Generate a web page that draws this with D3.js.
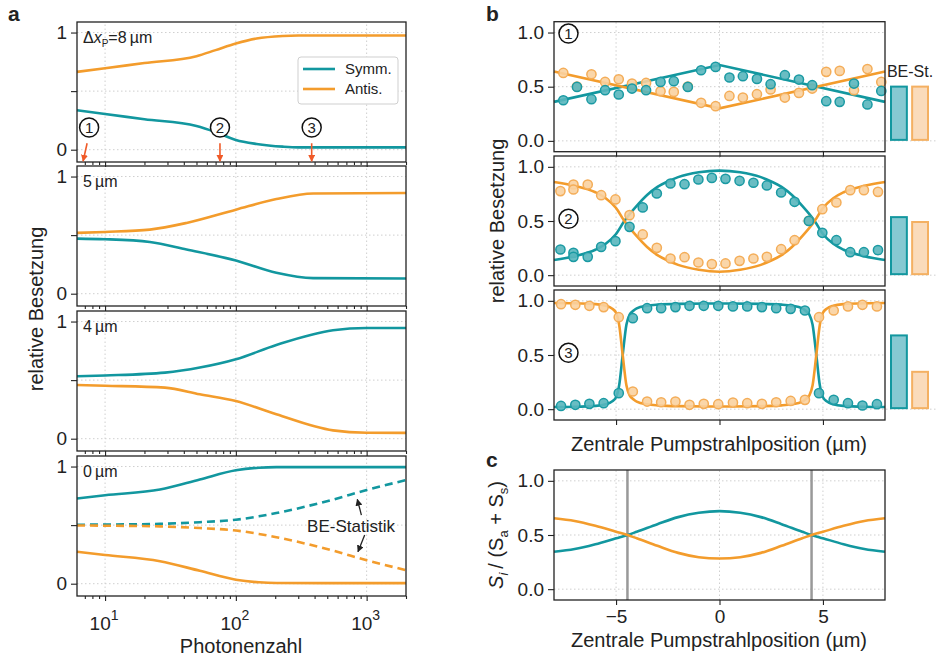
<!DOCTYPE html>
<html>
<head>
<meta charset="utf-8">
<script src="https://cdn.jsdelivr.net/npm/d3@7"></script>
<style>
body { margin: 0; background: #fff; }
text { font-family: "Liberation Sans", Arial, Helvetica, sans-serif; fill: #222; }
</style>
</head>
<body>
<div id="chart"></div>
<script>
// ---------- panel a: occupation vs photon number ----------
var a8N      = [6.1, 10, 20, 50, 70, 100, 144, 229, 300, 2000];
var a8Symm   = [0.336, 0.305, 0.26, 0.202, 0.15, 0.083, 0.049, 0.026, 0.02, 0.02];
var a8Antis  = [0.664, 0.695, 0.74, 0.798, 0.85, 0.906, 0.949, 0.971, 0.975, 0.975];

var a5N      = [6.1, 10, 22, 42, 100, 204, 390, 2000];
var a5Symm   = [0.47, 0.465, 0.442, 0.377, 0.283, 0.178, 0.133, 0.13];
var a5Antis  = [0.519, 0.527, 0.547, 0.604, 0.717, 0.808, 0.855, 0.86];

var a4N      = [6.1, 10, 28.7, 53, 100, 204, 553, 1000, 2000];
var a4Symm   = [0.533, 0.54, 0.564, 0.607, 0.678, 0.80, 0.926, 0.945, 0.945];
var a4Antis  = [0.458, 0.452, 0.436, 0.379, 0.322, 0.208, 0.071, 0.051, 0.05];

var a0N      = [6.1, 10, 26.3, 53, 100, 150, 204, 553, 1000, 2000];
var a0Symm   = [0.727, 0.755, 0.804, 0.89, 0.968, 0.99, 0.995, 0.995, 0.995, 0.995];
var a0Antis  = [0.272, 0.245, 0.192, 0.11, 0.034, 0.012, 0.006, 0.005, 0.005, 0.005];
var a0BESymm = [0.503, 0.505, 0.511, 0.525, 0.546, 0.575, 0.603, 0.718, 0.80, 0.884];
var a0BEAntis= [0.497, 0.495, 0.489, 0.475, 0.454, 0.425, 0.397, 0.282, 0.20, 0.116];

var aLabels  = ["8", "5 µm", "4 µm", "0 µm"];
var markN    = [7.55, 75.6, 380];      // circled markers 1,2,3 (photon number)
var markText = ["1", "2", "3"];

// ---------- panel b: measured points + fits ----------
var b1X = [-7.55,-6.89,-6.19,-5.53,-4.87,-4.23,-3.55,-2.85,-2.21,-1.53,-0.89,-0.19,0.48,1.13,1.81,2.47,3.16,3.84,4.48,5.16,5.81,6.50,7.15,7.82];
var b1Symm  = [0.375,0.498,0.385,0.468,0.428,0.483,0.468,0.544,0.551,0.498,0.652,0.683,0.585,0.597,0.572,0.523,0.606,0.566,0.514,0.366,0.360,0.529,0.336,0.461];
var b1Antis = [0.627,0.502,0.615,0.544,0.569,0.529,0.535,0.458,0.452,0.502,0.351,0.320,0.415,0.400,0.431,0.474,0.400,0.443,0.483,0.637,0.646,0.468,0.663,0.544];
var b1FitX = [-8, 0, 8];
var b1FitSymm  = [0.36, 0.70, 0.36];
var b1FitAntis = [0.64, 0.30, 0.64];

var b2X = [-7.69,-7.06,-7.06,-6.37,-5.72,-5.03,-4.35,-3.71,-3.03,-2.37,-1.69,-1.02,-0.37,0.29,0.97,1.64,2.29,2.98,3.63,4.32,4.97,5.65,6.32,6.98,7.66];
var b2Symm  = [0.237,0.206,0.169,0.169,0.261,0.314,0.446,0.625,0.754,0.846,0.840,0.883,0.898,0.889,0.871,0.853,0.828,0.763,0.677,0.501,0.391,0.323,0.212,0.212,0.231];
var b2Antis = [0.776,0.837,0.791,0.837,0.738,0.699,0.554,0.376,0.252,0.154,0.166,0.117,0.102,0.108,0.132,0.154,0.169,0.240,0.323,0.501,0.609,0.671,0.785,0.785,0.769];
var b2FitX = [-8,-7,-6,-5.5,-5,-4.6,-4,-3.5,-3,-2.5,-2,-1,0,1,2,2.5,3,3.5,4,4.6,5,5.5,6,7,8];
var b2FitSymm  = [0.14,0.175,0.235,0.29,0.38,0.5,0.64,0.74,0.815,0.865,0.905,0.95,0.965,0.95,0.905,0.865,0.815,0.74,0.64,0.5,0.38,0.29,0.235,0.175,0.14];
var b2FitAntis = [0.86,0.825,0.765,0.71,0.62,0.5,0.36,0.26,0.185,0.135,0.095,0.05,0.032,0.05,0.095,0.135,0.185,0.26,0.36,0.5,0.62,0.71,0.765,0.825,0.86];

var b3X = [-7.66,-6.97,-6.29,-5.60,-4.87,-4.19,-3.50,-2.82,-2.13,-1.45,-0.76,-0.06,0.65,1.34,2.05,2.74,3.44,4.13,4.81,5.52,6.21,6.91,7.61];
var b3Symm  = [0.030,0.040,0.049,0.055,0.148,0.840,0.932,0.932,0.942,0.954,0.954,0.954,0.948,0.948,0.942,0.932,0.926,0.911,0.148,0.086,0.055,0.034,0.046];
var b3Antis = [0.969,0.963,0.954,0.942,0.849,0.163,0.070,0.064,0.070,0.040,0.049,0.046,0.061,0.055,0.049,0.064,0.076,0.086,0.849,0.911,0.948,0.963,0.948];
var b3FitX = [-8,-7,-6,-5.5,-5.2,-5,-4.85,-4.68,-4.5,-4.35,-4.15,-4,-3.5,-3,-2,0,2,3,3.5,4,4.15,4.35,4.5,4.68,4.85,5,5.2,5.5,6,7,8];
var b3FitSymm  = [0.02,0.022,0.03,0.045,0.07,0.11,0.22,0.5,0.78,0.87,0.91,0.93,0.955,0.965,0.972,0.975,0.972,0.965,0.955,0.93,0.91,0.87,0.78,0.5,0.22,0.11,0.07,0.045,0.03,0.022,0.02];
var b3FitAntis = [0.98,0.978,0.97,0.955,0.93,0.89,0.78,0.5,0.22,0.13,0.09,0.07,0.045,0.035,0.028,0.025,0.028,0.035,0.045,0.07,0.09,0.13,0.22,0.5,0.78,0.89,0.93,0.955,0.97,0.978,0.98];

// BE-statistics bars next to each b panel
var beCats  = ["Symm.", "Antis."];
var beVals  = [[0.51, 0.51], [0.545, 0.50], [0.69, 0.354]];

// ---------- panel c ----------
var cX = [-8,-7,-6,-5,-4.45,-4,-3,-2,-1,0,1,2,3,4,4.45,5,6,7,8];
var cSymm  = [0.345,0.37,0.415,0.47,0.5,0.53,0.6,0.665,0.705,0.72,0.705,0.665,0.6,0.53,0.5,0.47,0.415,0.37,0.345];
var cAntis = [0.655,0.63,0.585,0.53,0.5,0.47,0.4,0.335,0.295,0.283,0.295,0.335,0.4,0.47,0.5,0.53,0.585,0.63,0.655];
var cMarks = [-4.45, 4.45];

var teal = "#12979f", orange = "#f39c2c", red = "#f05a28";
var tickFont = "19px";

var svg = d3.select("#chart").append("svg")
    .attr("width", 936).attr("height", 662);

var defs = svg.append("defs");
function arrowMarker(id, color) {
    defs.append("marker").attr("id", id)
        .attr("viewBox", "0 0 10 10").attr("refX", 9).attr("refY", 5)
        .attr("markerWidth", 7).attr("markerHeight", 7)
        .attr("markerUnits", "userSpaceOnUse")
        .attr("orient", "auto")
        .append("path").attr("d", "M0,0L10,5L0,10z").attr("fill", color);
}
arrowMarker("arrRed", red);
arrowMarker("arrBlack", "#222");

function gridLines(g, xs, ys, x, y) {
    var r = x.range(), t = y.range();
    g.selectAll(null).data(xs).enter().append("line")
        .attr("x1", d => x(d)).attr("x2", d => x(d))
        .attr("y1", t[0]).attr("y2", t[1])
        .attr("stroke", "#cfcfcf").attr("stroke-dasharray", "1.5,2.5");
    g.selectAll(null).data(ys).enter().append("line")
        .attr("x1", r[0]).attr("x2", r[1])
        .attr("y1", d => y(d)).attr("y2", d => y(d))
        .attr("stroke", "#cfcfcf").attr("stroke-dasharray", "1.5,2.5");
}
function frame(g, x, y) {
    var r = x.range(), t = y.range();
    g.append("rect").attr("x", r[0]).attr("y", t[1])
        .attr("width", r[1] - r[0]).attr("height", t[0] - t[1])
        .attr("fill", "none").attr("stroke", "#222").attr("stroke-width", 1.3);
}
function styleAxis(ax) {
    ax.select(".domain").remove();
    ax.selectAll(".tick line").attr("stroke", "#222").attr("stroke-width", 1.1);
    ax.selectAll(".tick text").attr("fill", "#222").style("font-size", tickFont)
        .style("font-family", '"Liberation Sans", Arial, sans-serif');
}
function circledNumber(g, cx, cy, t) {
    g.append("circle").attr("cx", cx).attr("cy", cy).attr("r", 9.5)
        .attr("fill", "#fff").attr("stroke", "#111").attr("stroke-width", 1.5);
    g.append("text").attr("x", cx).attr("y", cy + 5.5).attr("text-anchor", "middle")
        .style("font-size", "15px").text(t);
}

// ====================== panel a ======================
var aX = d3.scaleLog().domain([6.1, 2000]).range([77, 406]);
var aTops = [22, 166, 311, 456], aH = 140;
var aSets = [
    [{n: a8N, v: a8Symm, c: teal}, {n: a8N, v: a8Antis, c: orange}],
    [{n: a5N, v: a5Symm, c: teal}, {n: a5N, v: a5Antis, c: orange}],
    [{n: a4N, v: a4Symm, c: teal}, {n: a4N, v: a4Antis, c: orange}],
    [{n: a0N, v: a0Symm, c: teal}, {n: a0N, v: a0Antis, c: orange},
     {n: a0N, v: a0BESymm, c: teal, dash: "8,5"}, {n: a0N, v: a0BEAntis, c: orange, dash: "8,5"}]
];
var majorN = [10, 100, 1000];
var minorN = [7, 8, 9, 20, 30, 40, 50, 60, 70, 80, 90, 200, 300, 400, 500, 600, 700, 800, 900, 2000];
var aYs = [];

aTops.forEach(function(top, i) {
    var y = d3.scaleLinear().domain([-0.105, 1.09]).range([top + aH, top]);
    aYs.push(y);
    var g = svg.append("g");
    gridLines(g, majorN, [0, 0.5, 1], aX, y);

    var line = d3.line().x(d => aX(d[0])).y(d => y(d[1])).curve(d3.curveMonotoneX);
    aSets[i].forEach(function(s) {
        g.append("path").datum(d3.zip(s.n, s.v))
            .attr("fill", "none").attr("stroke", s.c).attr("stroke-width", 2.6)
            .attr("stroke-dasharray", s.dash || null)
            .attr("d", line);
    });
    frame(g, aX, y);

    var ya = g.append("g").attr("transform", "translate(77,0)")
        .call(d3.axisLeft(y).tickValues([0, 0.5, 1]).tickSize(6).tickPadding(4)
            .tickFormat(d => d === 0.5 ? "" : d3.format("d")(d)));
    styleAxis(ya);
    var xmin = g.append("g").attr("transform", "translate(0," + (top + aH) + ")")
        .call(d3.axisBottom(aX).tickValues(minorN).tickSize(3).tickFormat(""));
    styleAxis(xmin);
    var xmaj = g.append("g").attr("transform", "translate(0," + (top + aH) + ")")
        .call(d3.axisBottom(aX).tickValues(majorN).tickSize(5).tickFormat(""));
    styleAxis(xmaj);

    // panel label
    var lab = g.append("text").attr("x", 83).attr("y", top + 21).style("font-size", "16px");
    if (i === 0) {
        lab.append("tspan").text("Δ");
        lab.append("tspan").style("font-style", "italic").text("x");
        lab.append("tspan").attr("dy", 4).style("font-size", "10px").text("P");
        lab.append("tspan").attr("dy", -4).text("=" + aLabels[0] + "\u2009µm");
    } else {
        lab.text(aLabels[i].replace(" ", "\u2009"));
    }
});

// x tick labels with superscripts (bottom panel)
var aBot = aTops[3] + aH;
majorN.forEach(function(n) {
    var t = svg.append("text").attr("x", aX(n) - 1).attr("y", aBot + 34)
        .attr("text-anchor", "middle").style("font-size", "19px");
    t.append("tspan").text("10");
    t.append("tspan").attr("dy", -10).style("font-size", "14px").text(Math.round(Math.log10(n)));
});
svg.append("text").attr("x", 241).attr("y", 653).attr("text-anchor", "middle")
    .style("font-size", "20px").text("Photonenzahl");
svg.append("text").attr("transform", "translate(43,309) rotate(-90)")
    .attr("text-anchor", "middle").style("font-size", "20px").text("relative Besetzung");

// legend in top panel
var leg = svg.append("g");
leg.append("rect").attr("x", 298).attr("y", 57).attr("width", 100).attr("height", 47)
    .attr("rx", 3).attr("fill", "#fff").attr("stroke", "#cfcfcf");
[["Symm.", teal], ["Antis.", orange]].forEach(function(d, k) {
    var yy = 69 + k * 20;
    leg.append("line").attr("x1", 303).attr("x2", 335).attr("y1", yy).attr("y2", yy)
        .attr("stroke", d[1]).attr("stroke-width", 2.6);
    leg.append("text").attr("x", 345).attr("y", yy + 5).style("font-size", "15px").text(d[0]);
});

// circled markers with red arrows in top panel
var y0a = aYs[0];
markN.forEach(function(n, k) {
    circledNumber(svg, aX(n), y0a(0.19), markText[k]);
    var xTop = aX(n) - (k === 0 ? 2 : 0), xBot = aX(n) - (k === 0 ? 6 : 0);
    svg.append("line").attr("x1", xTop).attr("y1", y0a(0.055))
        .attr("x2", xBot).attr("y2", y0a(-0.098))
        .attr("stroke", red).attr("stroke-width", 1.6).attr("marker-end", "url(#arrRed)");
});

// BE-Statistik annotation
var y3a = aYs[3];
svg.append("text").attr("x", aX(760)).attr("y", y3a(0.49) + 6).attr("text-anchor", "middle")
    .style("font-size", "17px").text("BE-Statistik");
svg.append("line").attr("x1", aX(912)).attr("y1", y3a(0.586)).attr("x2", aX(849)).attr("y2", y3a(0.72))
    .attr("stroke", "#222").attr("stroke-width", 1.3).attr("marker-end", "url(#arrBlack)");
svg.append("line").attr("x1", aX(966)).attr("y1", y3a(0.416)).attr("x2", aX(859)).attr("y2", y3a(0.273))
    .attr("stroke", "#222").attr("stroke-width", 1.3).attr("marker-end", "url(#arrBlack)");

// ====================== panel b ======================
var bX = d3.scaleLinear().domain([-8, 8]).range([554, 885]);
var bTops = [21.7, 156, 290], bH = 130;
var bSets = [
    {x: b1X, s: b1Symm, a: b1Antis, fx: b1FitX, fs: b1FitSymm, fa: b1FitAntis, curve: d3.curveLinear},
    {x: b2X, s: b2Symm, a: b2Antis, fx: b2FitX, fs: b2FitSymm, fa: b2FitAntis, curve: d3.curveMonotoneX},
    {x: b3X, s: b3Symm, a: b3Antis, fx: b3FitX, fs: b3FitSymm, fa: b3FitAntis, curve: d3.curveMonotoneX}
];
var barX = d3.scaleBand().domain(beCats).range([891, 928]).paddingInner(0.25);
var bMarkY = [0.99, 0.52, 0.52];

bTops.forEach(function(top, i) {
    var y = d3.scaleLinear().domain([-0.1, 1.1]).range([top + bH, top]);
    var g = svg.append("g");
    gridLines(g, [-5, 0, 5], [0, 0.5, 1], bX, y);
    var d = bSets[i];
    var line = d3.line().x(p => bX(p[0])).y(p => y(p[1])).curve(d.curve);
    g.append("path").datum(d3.zip(d.fx, d.fs)).attr("fill", "none")
        .attr("stroke", teal).attr("stroke-width", 2.6).attr("d", line);
    g.append("path").datum(d3.zip(d.fx, d.fa)).attr("fill", "none")
        .attr("stroke", orange).attr("stroke-width", 2.6).attr("d", line);

    g.selectAll(null).data(d3.zip(d.x, d.a)).enter().append("circle")
        .attr("cx", p => bX(p[0])).attr("cy", p => y(p[1])).attr("r", 4.6)
        .attr("fill", "#f9d2a0").attr("fill-opacity", 0.9)
        .attr("stroke", "#f4ad58").attr("stroke-width", 1.5);
    g.selectAll(null).data(d3.zip(d.x, d.s)).enter().append("circle")
        .attr("cx", p => bX(p[0])).attr("cy", p => y(p[1])).attr("r", 4.6)
        .attr("fill", "#59b6bc").attr("fill-opacity", 0.9)
        .attr("stroke", "#1a9aa3").attr("stroke-width", 1.5);

    frame(g, bX, y);
    var ya = g.append("g").attr("transform", "translate(554,0)")
        .call(d3.axisLeft(y).tickValues([0, 0.5, 1]).tickSize(6).tickPadding(4)
            .tickFormat(d3.format(".1f")));
    styleAxis(ya);
    var xa = g.append("g").attr("transform", "translate(0," + (top + bH) + ")")
        .call(d3.axisBottom(bX).tickValues([-5, 0, 5]).tickSize(5).tickFormat(""));
    styleAxis(xa);

    circledNumber(g, bX(-7.3), y(bMarkY[i]), markText[i]);

    // BE-St. bars
    g.append("line").attr("x1", 886).attr("x2", 936).attr("y1", y(0)).attr("y2", y(0))
        .attr("stroke", "#cfcfcf").attr("stroke-dasharray", "1.5,2.5");
    var bars = [[beCats[0], beVals[i][0], "#86c9d2", teal], [beCats[1], beVals[i][1], "#fadbbb", "#f4b062"]];
    g.selectAll(null).data(bars).enter().append("rect")
        .attr("x", b => barX(b[0])).attr("width", barX.bandwidth())
        .attr("y", b => y(b[1]) + 1).attr("height", b => y(0) - y(b[1]) - 2)
        .attr("fill", b => b[2]).attr("stroke", b => b[3]).attr("stroke-width", 2);
});
svg.append("text").attr("x", 910).attr("y", 77).attr("text-anchor", "middle")
    .style("font-size", "16px").text("BE-St.");
svg.append("text").attr("x", 719).attr("y", 451).attr("text-anchor", "middle")
    .style("font-size", "20px").text("Zentrale Pumpstrahlposition (µm)");
svg.append("text").attr("transform", "translate(504,221) rotate(-90)")
    .attr("text-anchor", "middle").style("font-size", "20px").text("relative Besetzung");

// ====================== panel c ======================
var cY = d3.scaleLinear().domain([-0.1, 1.1]).range([600, 470]);
var gc = svg.append("g");
gridLines(gc, [-5, 0, 5], [0, 0.5, 1], bX, cY);
gc.selectAll(null).data(cMarks).enter().append("line")
    .attr("x1", d => bX(d)).attr("x2", d => bX(d)).attr("y1", 470).attr("y2", 600)
    .attr("stroke", "#999").attr("stroke-width", 2.5);
var cLine = d3.line().x(p => bX(p[0])).y(p => cY(p[1])).curve(d3.curveMonotoneX);
gc.append("path").datum(d3.zip(cX, cSymm)).attr("fill", "none")
    .attr("stroke", teal).attr("stroke-width", 2.6).attr("d", cLine);
gc.append("path").datum(d3.zip(cX, cAntis)).attr("fill", "none")
    .attr("stroke", orange).attr("stroke-width", 2.6).attr("d", cLine);
frame(gc, bX, cY);
var cya = gc.append("g").attr("transform", "translate(554,0)")
    .call(d3.axisLeft(cY).tickValues([0, 0.5, 1]).tickSize(6).tickPadding(4).tickFormat(d3.format(".1f")));
styleAxis(cya);
var cxa = gc.append("g").attr("transform", "translate(0,600)")
    .call(d3.axisBottom(bX).tickValues([-5, 0, 5]).tickSize(5).tickPadding(5));
styleAxis(cxa);
svg.append("text").attr("x", 719).attr("y", 647).attr("text-anchor", "middle")
    .style("font-size", "20px").text("Zentrale Pumpstrahlposition (µm)");
var cl = svg.append("text").attr("transform", "translate(503,535) rotate(-90)")
    .attr("text-anchor", "middle").style("font-size", "20px");
cl.append("tspan").style("font-style", "italic").text("S");
cl.append("tspan").attr("dy", 5).style("font-size", "13px").style("font-style", "italic").text("i");
cl.append("tspan").attr("dy", -5).text("\u2009/ (S");
cl.append("tspan").attr("dy", 5).style("font-size", "13px").text("a");
cl.append("tspan").attr("dy", -5).text(" + S");
cl.append("tspan").attr("dy", 5).style("font-size", "13px").text("s");
cl.append("tspan").attr("dy", -5).text(")");

// panel letters
[["a", 8, 21], ["b", 486, 21], ["c", 486, 467]].forEach(function(d) {
    svg.append("text").attr("x", d[1]).attr("y", d[2])
        .style("font-size", "21px").style("font-weight", "bold").text(d[0]);
});
</script>
</body>
</html>
